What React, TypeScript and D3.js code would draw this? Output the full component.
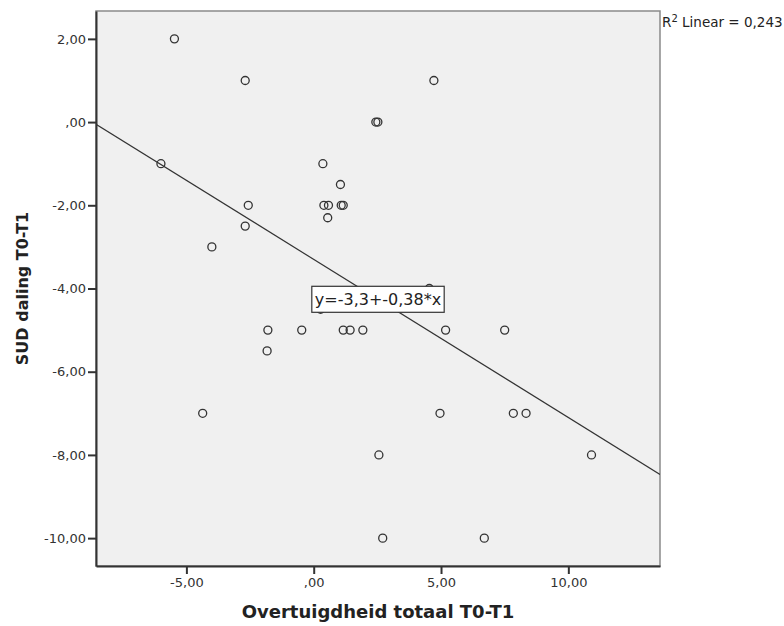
import * as React from "react";
import * as d3 from "d3";

// scatter values (Overtuigdheid totaal T0-T1 vs SUD daling T0-T1)
const xValues = [
  -5.47, -2.69, 4.72, 2.44, 2.52, -6.0, 0.36, 1.05, -2.57, 0.4, 0.58, 1.08,
  1.16, 0.55, -2.69, -4.0, 4.54, 0.27, -1.8, -0.47, 1.16, 1.43, 1.93, 5.18,
  7.5, -1.83, -4.36, 4.96, 7.84, 8.34, 2.56, 10.91, 2.71, 6.7,
];
const yValues = [
  2, 1, 1, 0, 0, -1, -1, -1.5, -2, -2, -2, -2, -2, -2.3, -2.5, -3, -4, -4.5,
  -5, -5, -5, -5, -5, -5, -5, -5.5, -7, -7, -7, -7, -8, -8, -10, -10,
];
const xTicks = [-5, 0, 5, 10];
const yTicks = [-10, -8, -6, -4, -2, 0, 2];
const intercept = -3.3;
const slope = -0.38;
const fitLabel = "y=-3,3+-0,38*x";
const rSquared = "0,243";

const xDomain = [-8.55, 13.6];
const yDomain = [-10.67, 2.67];

const W = 784;
const H = 626;
const margin = { top: 11, right: 124, bottom: 60, left: 96 };

const fmt = (v: number) => {
  let s = Math.abs(v).toFixed(2).replace(".", ",");
  if (s.startsWith("0")) s = s.slice(1);
  return (v < 0 ? "-" : "") + s;
};

export default function App() {
  const ref = React.useRef<SVGSVGElement>(null);

  React.useEffect(() => {
    const svg = d3.select(ref.current);
    svg.selectAll("*").remove();

    const x = d3.scaleLinear().domain(xDomain).range([margin.left, W - margin.right]);
    const y = d3.scaleLinear().domain(yDomain).range([H - margin.bottom, margin.top]);
    const font = "DejaVu Sans, Verdana, sans-serif";

    svg.append("defs").append("clipPath").attr("id", "plotclip")
      .append("rect")
      .attr("x", x.range()[0]).attr("y", y.range()[1])
      .attr("width", x.range()[1] - x.range()[0])
      .attr("height", y.range()[0] - y.range()[1]);

    // plot background + frame
    svg.append("rect")
      .attr("x", x.range()[0]).attr("y", y.range()[1])
      .attr("width", x.range()[1] - x.range()[0])
      .attr("height", y.range()[0] - y.range()[1])
      .attr("fill", "#f0f0f0")
      .attr("stroke", "#8a8a8a")
      .attr("stroke-width", 1.5);

    // y axis
    const yAxis = svg.append("g")
      .attr("transform", `translate(${margin.left},0)`)
      .call(d3.axisLeft(y).tickValues(yTicks).tickFormat(d => fmt(+d)).tickSize(8).tickSizeOuter(0))
      .call(g => g.select(".domain").attr("stroke", "#333").attr("stroke-width", 2));
    yAxis.selectAll(".tick line").attr("stroke", "#333").attr("stroke-width", 2);
    yAxis.selectAll(".tick text")
      .attr("font-family", font).attr("font-size", 13).attr("fill", "#333").attr("x", -10);

    // x axis
    const xAxis = svg.append("g")
      .attr("transform", `translate(0,${H - margin.bottom})`)
      .call(d3.axisBottom(x).tickValues(xTicks).tickFormat(d => fmt(+d)).tickSize(8).tickSizeOuter(0))
      .call(g => g.select(".domain").attr("stroke", "#333").attr("stroke-width", 2));
    xAxis.selectAll(".tick line").attr("stroke", "#333").attr("stroke-width", 2);
    xAxis.selectAll(".tick text")
      .attr("font-family", font).attr("font-size", 13).attr("fill", "#333").attr("y", 12);

    // fit line
    const plot = svg.append("g").attr("clip-path", "url(#plotclip)");
    plot.append("line")
      .attr("x1", x(xDomain[0])).attr("y1", y(intercept + slope * xDomain[0]))
      .attr("x2", x(xDomain[1])).attr("y2", y(intercept + slope * xDomain[1]))
      .attr("stroke", "#333").attr("stroke-width", 1.2);

    // points
    plot.append("g")
      .selectAll("circle")
      .data(xValues.map((v, i) => [v, yValues[i]]))
      .join("circle")
      .attr("cx", d => x(d[0]))
      .attr("cy", d => y(d[1]))
      .attr("r", 4)
      .attr("fill", "none")
      .attr("stroke", "#333")
      .attr("stroke-width", 1.3);

    // equation label at middle of x range
    const midX = (xDomain[0] + xDomain[1]) / 2;
    const lbl = svg.append("g")
      .attr("transform", `translate(${x(midX)},${y(intercept + slope * midX)})`);
    const txt = lbl.append("text")
      .attr("text-anchor", "middle").attr("dy", "0.36em")
      .attr("font-family", font).attr("font-size", 16).attr("fill", "#222")
      .text(fitLabel);
    const bb = (txt.node() as SVGTextElement).getBBox();
    lbl.insert("rect", "text")
      .attr("x", bb.x - 3).attr("y", -13)
      .attr("width", bb.width + 6).attr("height", 26)
      .attr("fill", "#fff").attr("stroke", "#333").attr("stroke-width", 1.2);

    // R² annotation
    const r2 = svg.append("text")
      .attr("x", W - margin.right + 2).attr("y", 27)
      .attr("font-family", font).attr("font-size", 13.5).attr("fill", "#222");
    r2.append("tspan").text("R");
    r2.append("tspan").attr("dy", -5).attr("font-size", 10).text("2");
    r2.append("tspan").attr("dy", 5).text(" Linear = " + rSquared);

    // axis titles
    svg.append("text")
      .attr("x", (x.range()[0] + x.range()[1]) / 2).attr("y", 618)
      .attr("text-anchor", "middle")
      .attr("font-family", font).attr("font-size", 18).attr("font-weight", "bold").attr("fill", "#222")
      .text("Overtuigdheid totaal T0-T1");

    svg.append("text")
      .attr("transform", `translate(28,${(y.range()[0] + y.range()[1]) / 2}) rotate(-90)`)
      .attr("text-anchor", "middle")
      .attr("font-family", font).attr("font-size", 16).attr("font-weight", "bold").attr("fill", "#222")
      .text("SUD daling T0-T1");
  }, []);

  return (
    <svg ref={ref} width={W} height={H}
      style={{ position: "absolute", left: 0, top: 0, background: "#fff" }} />
  );
}
